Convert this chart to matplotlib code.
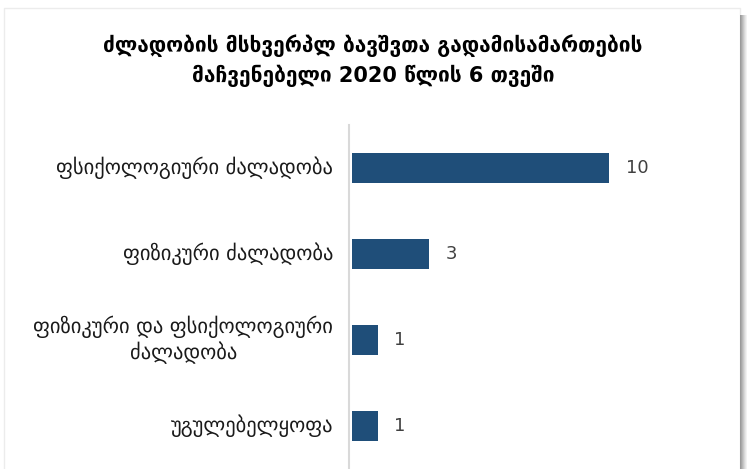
import matplotlib
matplotlib.use("Agg")
import matplotlib.pyplot as plt
from matplotlib.patches import Rectangle

plt.rcParams["font.family"] = ["DejaVu Sans"]

categories = ["ფსიქოლოგიური ძალადობა", "ფიზიკური ძალადობა",
              "ფიზიკური და ფსიქოლოგიური\nძალადობა", "უგულებელყოფა"]
values = [10, 3, 1, 1]
title = "ძლადობის მსხვერპლ ბავშვთა გადამისამართების\nმაჩვენებელი 2020 წლის 6 თვეში"

W, H = 747, 469
fig = plt.figure(figsize=(W / 100, H / 100), dpi=100)
fig.patch.set_facecolor("white")

# frame and shadow
fig.patches.append(Rectangle((4 / W, -0.05), (740 - 4) / W, (H - 8) / H + 0.05,
                             transform=fig.transFigure, fill=False,
                             edgecolor="#ececec", linewidth=1.0))
shades = ["#9a9a9a", "#a8a8a8", "#b8b8b8", "#c8c8c8", "#d8d8d8", "#e6e6e6", "#f2f2f2"]
for i, c in enumerate(shades):
    fig.patches.append(Rectangle(((740 + i) / W, 0), 1 / W, (H - 15) / H,
                                 transform=fig.transFigure, facecolor=c,
                                 edgecolor="none"))

ax = fig.add_axes([352 / W, 0, (712 - 352) / W, (469 - 125) / H])
y = list(range(len(categories)))
ax.barh(y, values, height=0.35, color="#1f4e79")
ax.set_ylim(len(categories) - 0.5, -0.5)
ax.set_xlim(0, 14)
ax.set_xticks([])
ax.set_yticks(y)
ax.set_yticklabels([])
ax.tick_params(axis="y", length=0)
for s in ["top", "right", "bottom"]:
    ax.spines[s].set_visible(False)
ax.spines["left"].set_color("#d9d9d9")
ax.spines["left"].set_linewidth(1.5)
ax.spines["left"].set_position(("outward", 2))

ytrans = ax.get_yaxis_transform()
for yi, cat in zip(y, categories):
    ax.annotate(cat, (0, yi), xycoords=ytrans, xytext=(-13.5, 0),
                textcoords="offset points", ha="right", va="center",
                multialignment="center", linespacing=1.2, fontsize=14.8,
                color="#1a1a1a", annotation_clip=False)

for yi, v in zip(y, values):
    ax.annotate(str(v), (v, yi), xytext=(12, 0), textcoords="offset points",
                va="center", ha="left", fontsize=13, color="#404040")

fig.text(373 / W, 1 - 61 / H, title, ha="center", va="center", fontsize=15,
         fontweight="bold", color="black", linespacing=1.45)

fig.savefig("out.png", dpi=100)
